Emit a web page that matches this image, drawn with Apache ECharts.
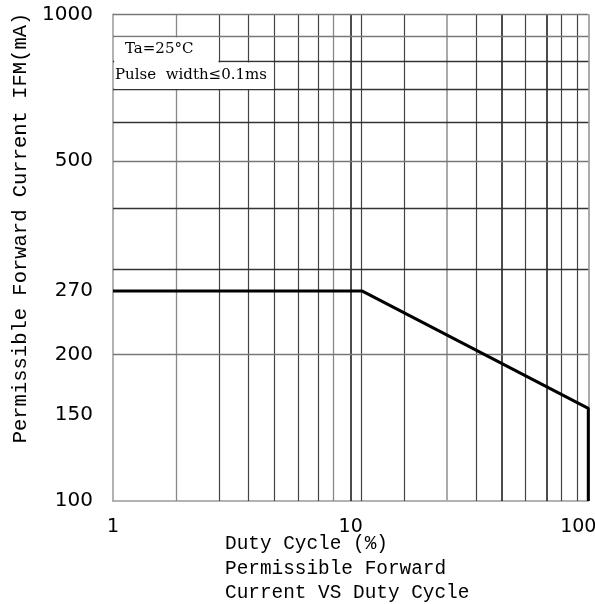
<!DOCTYPE html>
<html><head><meta charset="utf-8">
<script src="https://cdn.jsdelivr.net/npm/echarts@6/dist/echarts.min.js"></script>
<style>html,body{margin:0;padding:0;background:#fff}#c{width:595px;height:604px}</style>
</head><body><div id="c"></div>
<script>
// ---- data ----
const dutyCycle = [1, 11.2, 100, 100];          // %
const forwardCurrent = [270, 270, 155, 100];    // mA
const xTickLabels = [1, 10, 100];
const yTickLabels = [100, 150, 200, 270, 500, 1000];
const xGridLines = [1.854, 2.8, 3.71, 4.77, 6.02, 7.31, 8.48, 10, 11.13, 16.82, 25.44, 33.79, 43.35, 54.53, 66.83, 77.29, 90.25, 100];
const yGridLines = [200, 300, 400, 500, 600, 700, 800, 900, 1000];
const noteLines = ['Ta=25°C', 'Pulse  width≤0.1ms'];
const xTitleLines = ['Duty Cycle (%)', 'Permissible Forward', 'Current VS Duty Cycle'];
const yTitle = 'Permissible Forward Current IFM(mA)';

// ---- styling ----
const xBlack = [10, 43.35, 66.83];
const xLight = [25.44, 100];
const xGray = [1.854, 8.48];
const yGray = [900, 500, 200, 1000];
function xStyle(v) {
  if (xBlack.includes(v)) return { color: '#111', width: 1.5, type: 'solid' };
  if (xLight.includes(v)) return { color: '#aaa', width: 2, type: 'solid' };
  if (xGray.includes(v)) return { color: '#888', width: 1.3, type: 'solid' };
  return { color: '#444', width: 1.2, type: 'solid' };
}
function yStyle(v) {
  if (yGray.includes(v)) return { color: '#777', width: 1.3, type: 'solid' };
  return { color: '#333', width: 1.3, type: 'solid' };
}

const chart = echarts.init(document.getElementById('c'), null, { renderer: 'canvas' });
const option = {
  animation: false,
  backgroundColor: '#fff',
  grid: { left: 113, right: 6.7, top: 14.3, bottom: 103, containLabel: false, outerBoundsMode: 'none' },
  xAxis: {
    type: 'log', logBase: 10, min: 1, max: 100,
    axisLine: { show: true, lineStyle: { color: '#999', width: 1.5 } },
    axisTick: { show: false },
    splitLine: { show: false },
    axisLabel: {
      customValues: xTickLabels,
      margin: 17,
      hideOverlap: false,
      color: '#000', fontFamily: 'DejaVu Sans', fontSize: 19,
      formatter: v => (Math.round(v) === 100 ? '{r|100}' : String(Math.round(v))),
      rich: { r: { fontFamily: 'DejaVu Sans', fontSize: 19, color: '#000', padding: [0, 20, 0, 0] } }
    }
  },
  yAxis: {
    type: 'log', logBase: 10, min: 100, max: 1000,
    axisLine: { show: true, lineStyle: { color: '#999', width: 1.5 } },
    axisTick: { show: false },
    splitLine: { show: false },
    axisLabel: {
      customValues: yTickLabels,
      margin: 20,
      color: '#000', fontFamily: 'DejaVu Sans', fontSize: 20,
      formatter: v => String(Math.round(v))
    }
  },
  series: [
    {
      name: 'grid', type: 'line', data: [], z: 1, silent: true,
      markLine: {
        silent: true, z: 1, animation: false,
        symbol: ['none', 'none'],
        label: { show: false },
        emphasis: { disabled: true },
        data: [
          ...xGridLines.map(v => ({ xAxis: v, lineStyle: xStyle(v) })),
          ...yGridLines.map(v => ({ yAxis: v, lineStyle: yStyle(v) }))
        ]
      }
    },
    {
      name: 'IFM', type: 'line', z: 5, clip: false,
      data: dutyCycle.map((x, i) => [x, forwardCurrent[i]]),
      symbol: 'none',
      lineStyle: { color: '#000', width: 3 }
    }
  ]
};
chart.setOption(option);

// box behind the condition notes, located from data coordinates
const a0 = chart.convertToPixel({ gridIndex: 0 }, [1, 900]);
const a1 = chart.convertToPixel({ gridIndex: 0 }, [2.8, 800]);
const b1 = chart.convertToPixel({ gridIndex: 0 }, [4.77, 700]);
const x0 = a0[0] + 1.2;
chart.setOption({
  graphic: [
    { type: 'rect', z: 50, silent: true,
      shape: { x: x0, y: a0[1] + 1, width: a1[0] - x0 - 0.8, height: a1[1] - a0[1] + 0.5 },
      style: { fill: '#fff' } },
    { type: 'rect', z: 50, silent: true,
      shape: { x: x0, y: a1[1] + 1, width: b1[0] - x0 - 0.8, height: b1[1] - a1[1] - 1.8 },
      style: { fill: '#fff' } },
    { type: 'text', z: 60, silent: true, x: 125, y: (a0[1] + a1[1]) / 2,
      style: { text: noteLines[0], fontFamily: 'DejaVu Serif', fontSize: 15, fill: '#000', textVerticalAlign: 'middle' } },
    { type: 'text', z: 60, silent: true, x: 115, y: (a1[1] + b1[1]) / 2,
      style: { text: noteLines[1], fontFamily: 'DejaVu Serif', fontSize: 15, fill: '#000', textVerticalAlign: 'middle' } },
    { type: 'text', z: 60, silent: true, x: 225, y: 532,
      style: { text: xTitleLines.join('\n'), fontFamily: 'Liberation Mono', fontSize: 19.4, lineHeight: 24.5, fill: '#000', textVerticalAlign: 'top' } },
    { type: 'text', z: 60, silent: true, x: 21, y: 228, rotation: Math.PI / 2,
      style: { text: yTitle, fontFamily: 'Liberation Mono', fontSize: 20.5, fill: '#000', textAlign: 'center', textVerticalAlign: 'middle' } }
  ]
});
</script>
</body></html>
